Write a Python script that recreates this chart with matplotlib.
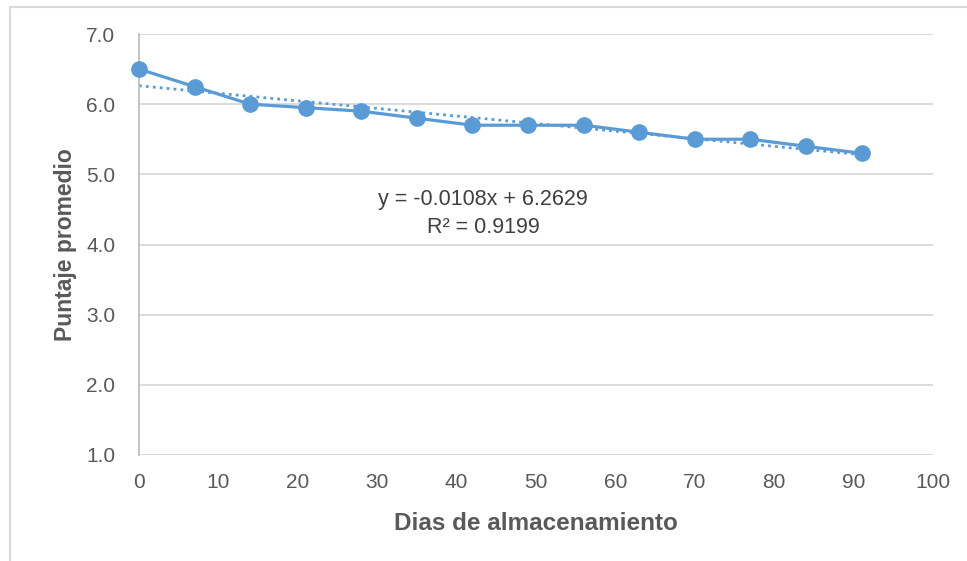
import numpy as np
import matplotlib
matplotlib.use("Agg")
import matplotlib.pyplot as plt
from matplotlib.patches import Rectangle

dias = [0, 7, 14, 21, 28, 35, 42, 49, 56, 63, 70, 77, 84, 91]
puntaje = [6.5, 6.25, 6.0, 5.95, 5.9, 5.8, 5.7, 5.7, 5.7, 5.6, 5.5, 5.5, 5.4, 5.3]
eq_text = "y = -0.0108x + 6.2629"
r2_text = "R² = 0.9199"
x_ticks = [0, 10, 20, 30, 40, 50, 60, 70, 80, 90, 100]
y_ticks = [1.0, 2.0, 3.0, 4.0, 5.0, 6.0, 7.0]

plt.rcParams['font.family'] = ["Liberation Sans", "DejaVu Sans"]

blue = "#5b9bd5"
txt = "#595959"

fig = plt.figure(figsize=(9.67, 5.61), dpi=100)
fig.patches.append(Rectangle((10/967, -1), 2, 2 - 7/561, transform=fig.transFigure,
                             fill=False, edgecolor="#d9d9d9", linewidth=1.5))
ax = fig.add_axes([139/967, 1 - 455/561, (933 - 139)/967, (455 - 34)/561])

ax.plot(dias, puntaje, color=blue, linewidth=2.3, marker='o', markersize=11,
        zorder=3, clip_on=False)
coef = np.polyfit(dias, puntaje, 1)
xt = np.array([dias[0], dias[-1]])
ax.plot(xt, np.polyval(coef, xt), color=blue, linewidth=2, linestyle=(0, (1, 1.5)),
        zorder=2)

ax.set_xlim(0, 100)
ax.set_ylim(1.0, 7.0)
ax.set_xticks(x_ticks)
ax.set_yticks(y_ticks)
ax.set_xticklabels([str(t) for t in x_ticks])
ax.set_yticklabels([f"{t:.1f}" for t in y_ticks])
ax.tick_params(axis='both', length=0, labelsize=15, colors=txt)
ax.tick_params(axis='x', pad=13)
ax.tick_params(axis='y', pad=17)
ax.grid(axis='y', color="#d9d9d9", linewidth=1.3)
ax.set_axisbelow(True)
for s in ['top', 'right', 'bottom']:
    ax.spines[s].set_visible(False)
ax.spines['left'].set_color("#bfbfbf")
ax.spines['left'].set_linewidth(1.3)

ax.set_xlabel("Dias de almacenamiento", fontsize=17.5, fontweight='bold', color=txt, labelpad=14)
ax.set_ylabel("Puntaje promedio", fontsize=16.5, fontweight='bold', color=txt, labelpad=7)

ax.text(43.3, 4.64, eq_text, fontsize=15.5, color="#404040", ha='center', va='center')
ax.text(43.4, 4.24, r2_text, fontsize=15.5, color="#404040", ha='center', va='center')

fig.savefig("out.png", dpi=100)
